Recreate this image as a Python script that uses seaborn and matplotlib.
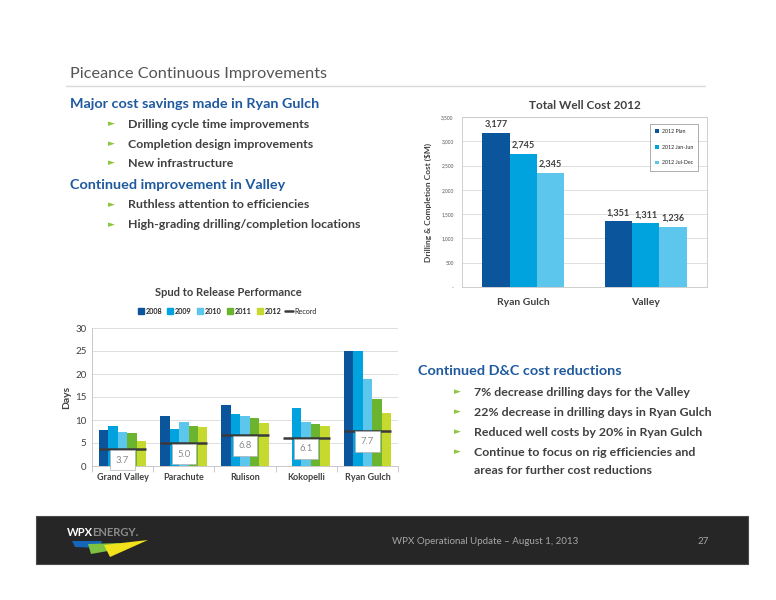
import numpy as np
import pandas as pd
import matplotlib
matplotlib.use("Agg")
import matplotlib.pyplot as plt
from matplotlib.lines import Line2D
from matplotlib.patches import Rectangle, Polygon
from matplotlib.ticker import FuncFormatter
import seaborn as sns

# Data
cost_areas = ['Ryan Gulch', 'Valley']
cost_periods = ['2012 Plan', '2012 Jan-Jun', '2012 Jul-Dec']
cost_plan = [3177, 1351]
cost_h1 = [2745, 1311]
cost_h2 = [2345, 1236]

spud_fields = ['Grand Valley', 'Parachute', 'Rulison', 'Kokopelli', 'Ryan Gulch']
spud_years = ['2008', '2009', '2010', '2011', '2012']
days_2008 = [7.8, 10.8, 13.3, np.nan, 24.9]
days_2009 = [8.7, 8.1, 11.2, 12.6, 24.9]
days_2010 = [7.5, 9.5, 10.8, 9.5, 19.0]
days_2011 = [7.1, 8.7, 10.5, 9.1, 14.6]
days_2012 = [5.5, 8.4, 9.4, 8.7, 11.5]
record_days = [3.7, 5.0, 6.8, 6.1, 7.7]

cost_colors = ['#0b559c', '#00a3de', '#5cc6ec']
spud_colors = ['#0b559c', '#00a3de', '#5cc6ec', '#6bb42f', '#c6d92f']
dark = '#404040'
blue_head = '#1f5a9e'
bullet_green = '#8cc63f'

sns.set_style('white')
plt.rcParams['font.family'] = ['Lato', 'DejaVu Sans']

fig = plt.figure(figsize=(7.76, 6), dpi=100)
W, H = 776.0, 600.0


def fx(x):
    return x / W


def fy(y):
    return 1 - y / H


# ---- slide text ----
fig.text(fx(70), fy(74), 'Piceance Continuous Improvements', fontsize=11.7,
         color='#555555', va='center')
fig.add_artist(Line2D([fx(66), fx(705)], [fy(86), fy(86)], color='#d9d9d9', lw=1))


def bullet(x, y, s):
    fig.text(fx(x), fy(y), '\u25ba', fontsize=6.5, color=bullet_green, va='center',
             family='DejaVu Sans')
    fig.text(fx(x + 20), fy(y), s, fontsize=8.9, color=dark, weight='bold', va='center')


fig.text(fx(70), fy(104), 'Major cost savings made in Ryan Gulch', fontsize=10.4,
         color=blue_head, weight='bold', va='center')
bullet(108, 124, 'Drilling cycle time improvements')
bullet(108, 144, 'Completion design improvements')
bullet(108, 163, 'New infrastructure')
fig.text(fx(70), fy(185), 'Continued improvement in Valley', fontsize=10.4,
         color=blue_head, weight='bold', va='center')
bullet(108, 205, 'Ruthless attention to efficiencies')
bullet(108, 225, 'High-grading drilling/completion locations')

fig.text(fx(418), fy(371), 'Continued D&C cost reductions', fontsize=10.4,
         color=blue_head, weight='bold', va='center')
bullet(454, 392, '7% decrease drilling days for the Valley')
bullet(454, 412, '22% decrease in drilling days in Ryan Gulch')
bullet(454, 432, 'Reduced well costs by 20% in Ryan Gulch')
bullet(454, 452, 'Continue to focus on rig efficiencies and')
fig.text(fx(474), fy(471), 'areas for further cost reductions', fontsize=8.9,
         color=dark, weight='bold', va='center')

# ---- footer ----
fig.add_artist(Rectangle((fx(36), fy(564)), fx(748) - fx(36), fy(516) - fy(564),
                         facecolor='#262626', edgecolor='#4a4a4a', lw=0.8))
fig.text(fx(67), fy(533), 'WPX', fontsize=8, color='white', weight='bold', va='center')
fig.text(fx(92.5), fy(533), 'ENERGY.', fontsize=8, color='#8c8c8c', weight='bold', va='center')
fig.add_artist(Polygon([(fx(72), fy(541)), (fx(102), fy(541)), (fx(100), fy(548)), (fx(75), fy(547))],
                       closed=True, facecolor='#1565b8', edgecolor='none'))
fig.add_artist(Polygon([(fx(88), fy(544)), (fx(120), fy(543)), (fx(108), fy(551)), (fx(91), fy(554))],
                       closed=True, facecolor='#7dc242', edgecolor='none'))
fig.add_artist(Polygon([(fx(104), fy(545)), (fx(148), fy(540)), (fx(110), fy(557))],
                       closed=True, facecolor='#f2e21b', edgecolor='none'))
fig.text(fx(485), fy(542), 'WPX Operational Update \u2013 August 1, 2013', fontsize=7,
         color='#a6a6a6', ha='center', va='center')
fig.text(fx(703), fy(542), '27', fontsize=7, color='#a6a6a6', ha='center', va='center')

# ---- Total Well Cost 2012 ----
cost_df = pd.DataFrame({
    'area': cost_areas * 3,
    'period': [p for p in cost_periods for _ in cost_areas],
    'cost': cost_plan + cost_h1 + cost_h2,
})
ax1 = fig.add_axes([fx(462), fy(287), fx(707) - fx(462), fy(117) - fy(287)])
sns.barplot(data=cost_df, x='area', y='cost', hue='period', hue_order=cost_periods,
            order=cost_areas, palette=cost_colors, width=0.67, gap=0, saturation=1,
            errorbar=None, ax=ax1, zorder=3, linewidth=0, edgecolor='none')
for c in ax1.containers:
    ax1.bar_label(c, labels=[f'{v:,.0f}' for v in c.datavalues], padding=3,
                  fontsize=6.6, weight='bold', color=dark)
ax1.set_ylim(0, 3500)
ax1.set_yticks(np.arange(0, 3501, 500))
ax1.yaxis.set_major_formatter(FuncFormatter(lambda v, p: '-' if v == 0 else f'{v:,.0f}'))
ax1.tick_params(axis='y', labelsize=3.5, colors='#555555', length=0, pad=6)
ax1.tick_params(axis='x', labelsize=7.5, length=0, pad=8)
for lab in ax1.get_xticklabels():
    lab.set_fontweight('bold')
    lab.set_color(dark)
ax1.set_xlabel('')
ax1.set_ylabel('Drilling & Completion Cost ($M)', fontsize=6, weight='bold', color=dark,
               labelpad=7)
ax1.set_title('Total Well Cost 2012', fontsize=8.5, weight='bold', color=dark, pad=6)
ax1.grid(axis='y', color='#d9d9d9', lw=0.6, zorder=0)
for s in ax1.spines.values():
    s.set_color('#c8c8c8')
    s.set_linewidth(0.6)
leg1 = ax1.legend(loc='upper right', fontsize=3.8, frameon=True, fancybox=False,
                  handlelength=0.7, handleheight=0.7, labelspacing=2.0,
                  borderpad=1.0, handletextpad=0.5, bbox_to_anchor=(0.975, 0.975))
leg1.get_frame().set_edgecolor('#888888')
leg1.get_frame().set_linewidth(0.6)

# ---- Spud to Release Performance ----
spud_df = pd.DataFrame({
    'field': spud_fields * 5,
    'year': [y for y in spud_years for _ in spud_fields],
    'days': days_2008 + days_2009 + days_2010 + days_2011 + days_2012,
})
grp_w = 0.77
ax2 = fig.add_axes([fx(92), fy(466), fx(398) - fx(92), fy(328) - fy(466)])
sns.barplot(data=spud_df, x='field', y='days', hue='year', hue_order=spud_years,
            order=spud_fields, palette=spud_colors, width=grp_w, gap=0, saturation=1,
            errorbar=None, ax=ax2, zorder=3, legend=False, linewidth=0, edgecolor='none')
pos = np.arange(len(spud_fields))
ax2.hlines(record_days, pos - grp_w / 2, pos + grp_w / 2, color='#3a3a3a', lw=1.8, zorder=4)
for i, r in enumerate(record_days):
    ax2.text(i, r - 2.4, f'{r:.1f}', ha='center', va='center', fontsize=6.8,
             color='#8a8a8a', zorder=5,
             bbox=dict(boxstyle='square,pad=0.6', facecolor='white',
                       edgecolor='#b0b0b0', lw=0.5))
ax2.set_ylim(0, 30)
ax2.set_xlim(-0.5, len(spud_fields) - 0.5)
ax2.set_yticks(np.arange(0, 31, 5))
ax2.tick_params(axis='y', labelsize=7, colors=dark, length=0, pad=4)
ax2.set_xticks(pos, spud_fields)
ax2.set_xticks(np.arange(-0.5, len(spud_fields), 1), minor=True)
ax2.tick_params(axis='x', which='major', labelsize=6.5, length=0, pad=5)
ax2.tick_params(axis='x', which='minor', length=4, color='#bfbfbf', width=0.6, bottom=True)
for lab in ax2.get_xticklabels():
    lab.set_fontweight('bold')
    lab.set_color(dark)
ax2.set_xlabel('')
ax2.set_ylabel('Days', fontsize=7.5, weight='bold', color=dark, labelpad=3)
ax2.grid(axis='y', color='#d9d9d9', lw=0.6, zorder=0)
ax2.set_axisbelow(True)
for side in ['top', 'right']:
    ax2.spines[side].set_visible(False)
for side in ['left', 'bottom']:
    ax2.spines[side].set_color('#bfbfbf')
    ax2.spines[side].set_linewidth(0.6)
fig.text(fx(228), fy(293), 'Spud to Release Performance', fontsize=8, weight='bold',
         color=dark, ha='center', va='center')
handles = [Line2D([], [], marker='s', ls='none', color=c, markersize=4) for c in spud_colors]
handles.append(Line2D([], [], color='#3a3a3a', lw=1.8))
leg2 = ax2.legend(handles, spud_years + ['Record'], loc='center', ncol=6,
                  bbox_to_anchor=(0.44, 1 + (328 - 311) / 138), frameon=False, fontsize=5.2,
                  handlelength=1.1, handletextpad=0.1, columnspacing=0.6)
for t in leg2.get_texts()[:5]:
    t.set_fontweight('bold')

fig.savefig('out.png', dpi=100)
